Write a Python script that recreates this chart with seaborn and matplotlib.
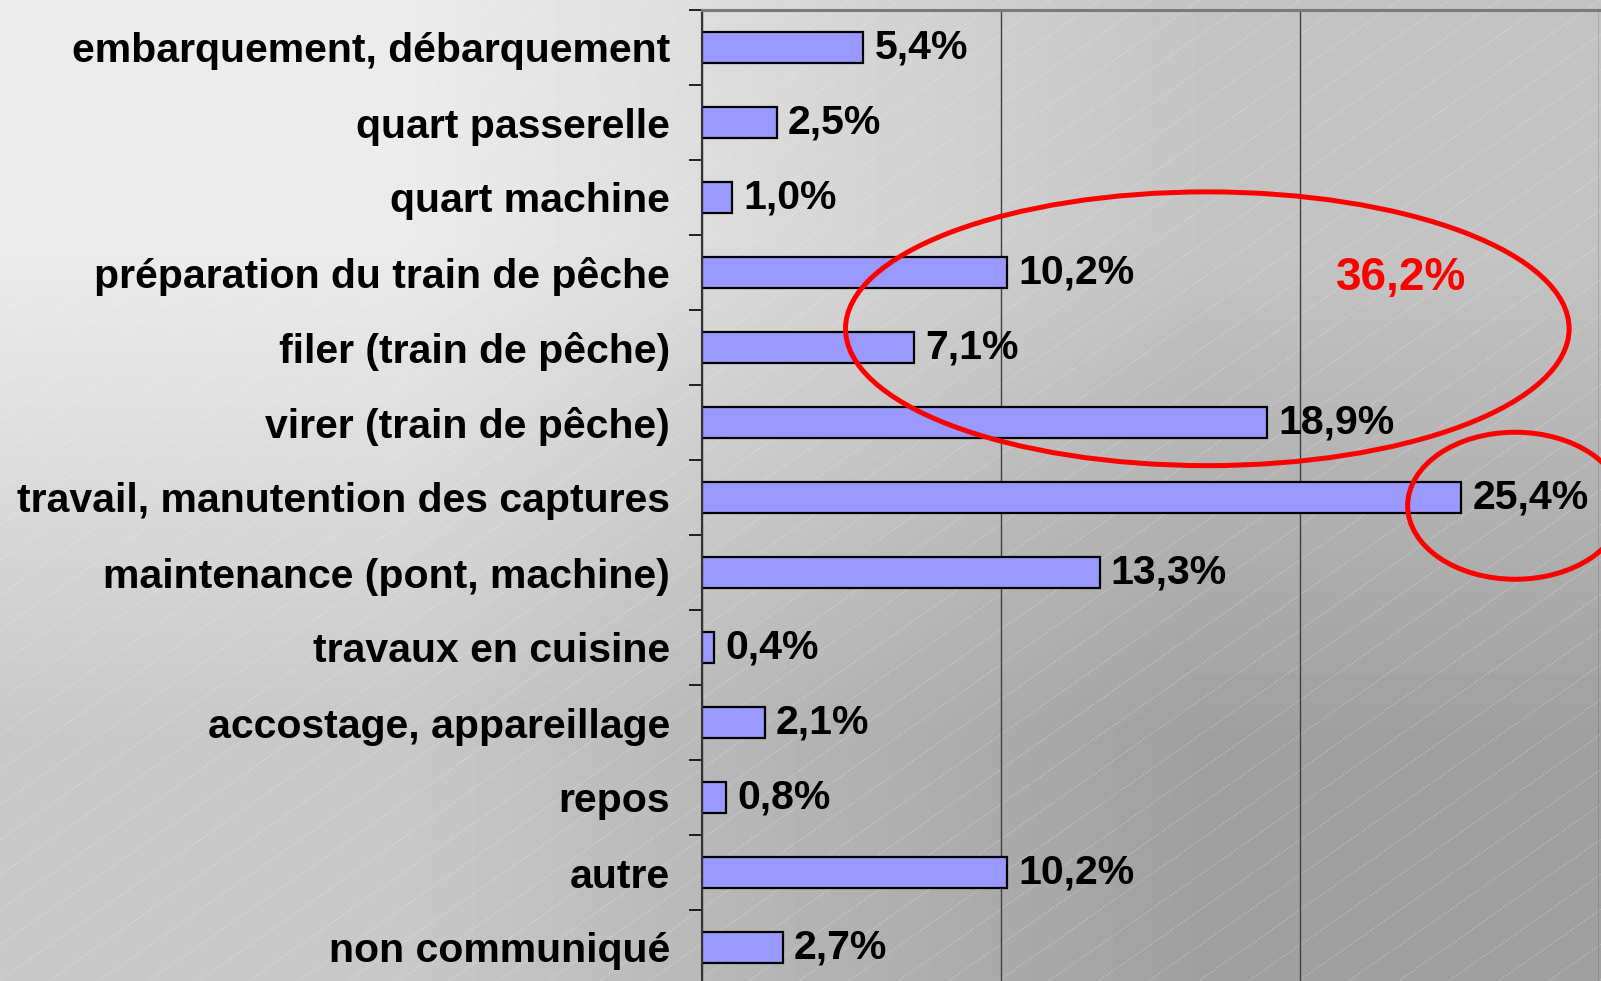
import numpy as np
import pandas as pd
import seaborn as sns
import matplotlib.pyplot as plt
from matplotlib.patches import Ellipse

categories = [
    "embarquement, débarquement",
    "quart passerelle",
    "quart machine",
    "préparation du train de pêche",
    "filer (train de pêche)",
    "virer (train de pêche)",
    "travail, manutention des captures",
    "maintenance (pont, machine)",
    "travaux en cuisine",
    "accostage, appareillage",
    "repos",
    "autre",
    "non communiqué",
]
values = [5.4, 2.5, 1.0, 10.2, 7.1, 18.9, 25.4, 13.3, 0.4, 2.1, 0.8, 10.2, 2.7]
group_total = "36,2%"

df = pd.DataFrame({"activite": categories, "pct": values})

sns.set_style("white")
plt.rcParams["font.family"] = ["Liberation Sans", "DejaVu Sans"]
plt.rcParams["font.weight"] = "bold"

fig = plt.figure(figsize=(16.01, 9.81), dpi=100)

# background: diagonal grey gradient with faint white diagonal lines
bg = fig.add_axes([0, 0, 1, 1], zorder=0)
grad = np.array([[236, 196], [200, 160]]) / 255.0
bg.imshow(grad, cmap="gray", vmin=0, vmax=1, interpolation="bilinear",
          extent=[0, 1601, 981, 0], aspect="auto")
for c in np.arange(0, 981 + 0.7 * 1601, 35):
    bg.plot([0, 1601], [c, c - 0.7 * 1601], color="white", lw=0.7,
            alpha=0.3, ls=(0, (2, 1.5)))
bg.set_xlim(0, 1601)
bg.set_ylim(981, 0)
bg.axis("off")

ax = fig.add_axes([702 / 1601, 1 - 985 / 981, 897 / 1601, 975 / 981], zorder=1)
ax.patch.set_alpha(0)

sns.barplot(data=df, x="pct", y="activite", orient="h", color="#9999ff",
            saturation=1, edgecolor="black", linewidth=1.6, width=0.42, ax=ax)

labels = [f"{v:.1f}%".replace(".", ",") for v in values]
ax.bar_label(ax.containers[0], labels=labels, padding=8, fontsize=29.5,
             fontweight="bold", color="black")

ax.set_xlim(0, 30)
ax.set_xticks([0, 10, 20, 30])
ax.set_xticklabels([])
ax.tick_params(axis="x", length=0)
ax.xaxis.grid(True, color="#404040", lw=1)
ax.set_axisbelow(True)

ax.set_xlabel("")
ax.set_ylabel("")
ax.tick_params(axis="y", which="major", left=True, length=0, pad=23,
               labelsize=29.5, labelcolor="black")
for t in ax.get_yticklabels():
    t.set_fontweight("bold")
ax.set_yticks(np.arange(len(categories) + 1) - 0.5, minor=True)
ax.tick_params(axis="y", which="minor", left=True, length=9.5, width=1.2,
               color="black", direction="out")

for s in ["right", "bottom"]:
    ax.spines[s].set_visible(False)
ax.spines["top"].set_color("#7a7a7a")
ax.spines["top"].set_linewidth(2.2)
ax.spines["left"].set_color("#333333")
ax.spines["left"].set_linewidth(1.5)

# red highlights
ax.add_patch(Ellipse((16.9, 3.75), 24.2, 3.65, fill=False, ec="#ff0000",
                     lw=3.6, clip_on=False, zorder=5))
ax.add_patch(Ellipse((27.2, 6.11), 7.2, 1.96, fill=False, ec="#ff0000",
                     lw=3.6, clip_on=False, zorder=5))
ax.text(23.4, 3.07, group_total, color="#ff0000", fontsize=33,
        fontweight="bold", ha="center", va="center")

fig.savefig("out.png", dpi=100)
